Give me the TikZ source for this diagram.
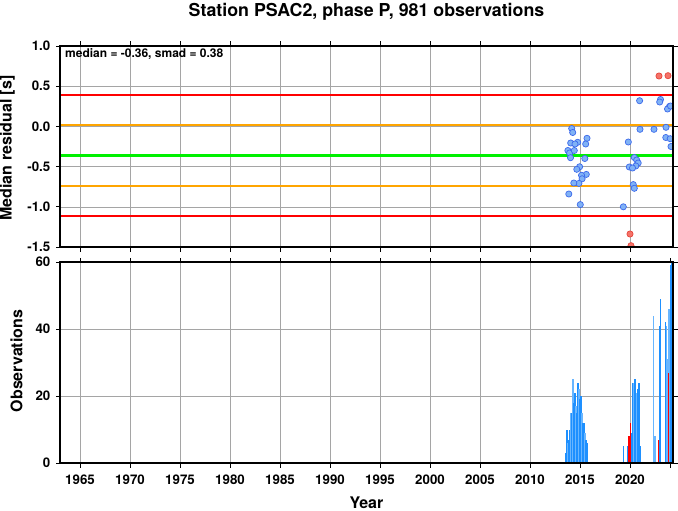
\documentclass[tikz,border=0pt]{standalone}
\usepackage{fontspec}
\setmainfont{TeX Gyre Heros}
\usetikzlibrary{positioning}

\definecolor{ptblue}{RGB}{128,178,245}
\definecolor{ptedge}{RGB}{60,105,235}
\definecolor{ptred}{RGB}{245,115,105}
\definecolor{ptrededge}{RGB}{230,70,60}
\definecolor{barblue}{RGB}{30,144,255}
\definecolor{barlight}{RGB}{105,182,255}
\definecolor{gridgray}{RGB}{165,165,165}
\definecolor{lineorange}{RGB}{255,165,0}
\definecolor{linegreen}{RGB}{0,240,0}

\begin{document}
\begin{tikzpicture}[
    x=1pt, y=-1pt,
    gridline/.style={gridgray, line width=0.6pt},
    frameline/.style={line width=1.4pt},
    ticmark/.style={line width=0.9pt},
    ticklabel/.style={font=\bfseries\fontsize{13.3}{15}\selectfont, inner sep=0pt},
    axislabel/.style={font=\bfseries\fontsize{16}{18}\selectfont, inner sep=0pt},
    bluedot/.style={fill=ptblue, draw=ptedge, line width=0.7pt},
    reddot/.style={fill=ptred, draw=ptrededge, line width=0.7pt}
]
\useasboundingbox (0,0) rectangle (678,511);

% title
\node[font=\bfseries\fontsize{17.8}{20}\selectfont, inner sep=0pt, anchor=base] (title) at (366.5,16.7) {Station PSAC2, phase P, 981 observations};

% top panel: grid
\foreach \gx in {80,130,...,670}
  \draw[gridline] (\gx,46) -- (\gx,247);
\foreach \gv in {0.5,0,-0.5,-1}
  \draw[gridline] (60,{126.4-\gv*80.4}) -- (673,{126.4-\gv*80.4});

% median and smad lines
\foreach \lv/\lc/\lw in {0.393/red/2pt, -1.119/red/2pt, 0.015/lineorange/2pt, -0.741/lineorange/2pt, -0.363/linegreen/3pt}
  \draw[\lc, line width=\lw] (60,{126.4-\lv*80.4}) -- (673,{126.4-\lv*80.4});

% residuals
\begin{scope}
  \clip (60,46) rectangle (673,247);
  \foreach \px/\py in {571.7/128.5, 572.7/132.5, 587/138.3, 570.7/143, 577.7/142.3, 575/144,
      585.7/144, 567.9/150.5, 569.6/153, 574.3/150.5, 570.5/157.7, 584.8/158.5, 579.6/166.8,
      576.8/169.3, 586.3/174.4, 581.5/175.3, 582.1/178.8, 578.9/183.4, 573.8/183, 568.8/194,
      580.3/204.6, 623.3/206.8, 628.3/142, 634.3/157.5, 636.7/160, 638.2/163, 635.8/166,
      629.3/167, 632.5/168, 633.3/184.6, 634.3/188.3, 640/129.3, 654/129.3, 666/127.3,
      665.8/137.5, 670.2/138.7, 671/146.5, 639.6/100.7, 660.5/99.5, 659.7/102, 669.5/106.5,
      667.5/109, 670.5/106}
    \draw[bluedot] (\px,\py) circle (3.1);
  \foreach \px/\py in {659/76, 668/75.7, 630/234, 631/245.7}
    \draw[reddot] (\px,\py) circle (3.1);
\end{scope}

% top panel: frame and ticks
\draw[frameline] (60,46) rectangle (673,247);
\foreach \gx in {80,130,...,670} {
  \draw[ticmark] (\gx,46) -- (\gx,41.5);
  \draw[ticmark] (\gx,247) -- (\gx,251.5);
}
\foreach \gv/\gt in {1/1.0, 0.5/0.5, 0/0.0, -0.5/-0.5, -1/-1.0, -1.5/-1.5} {
  \draw[ticmark] (60,{126.4-\gv*80.4}) -- (55.5,{126.4-\gv*80.4});
  \draw[ticmark] (673,{126.4-\gv*80.4}) -- (677.5,{126.4-\gv*80.4});
  \node[ticklabel, anchor=base east] at (50.5,{131.2-\gv*80.4}) {\gt};
}
\node[font=\bfseries\fontsize{12}{14}\selectfont, inner sep=0pt, anchor=base west] (stats) at (65,57.5) {median = -0.36, smad = 0.38};
\node[axislabel, rotate=90, anchor=base] (reslabel) at (11.7,148) {Median residual [s]};

% bottom panel: grid
\foreach \gx in {80,130,...,670}
  \draw[gridline] (\gx,262) -- (\gx,463);
\foreach \gc in {20,40}
  \draw[gridline] (60,{463-\gc*3.35}) -- (673,{463-\gc*3.35});

% observation counts
\foreach \bx/\bn/\bc in {566/3/barblue, 567/10/barblue, 568/6/barlight, 569/7/barblue, 570/10/barblue,
    571/15/barlight, 572/15/barblue, 573/25/barlight, 574/18/barblue, 575/21/barblue, 576/17/barlight,
    577/15/barblue, 578/24/barblue, 579/22/barlight, 580/19/barblue, 581/20/barblue, 582/15/barlight,
    583/12/barblue, 584/12/barblue, 585/9/barlight, 586/7/barblue, 587/6/barblue,
    623.3/5/barblue, 628/5/barblue, 629/5/barblue, 630/5/barblue, 631/5/barblue, 632/9/barblue,
    633/24/barblue, 634/24/barlight, 635/25/barblue, 636/21/barblue, 637/21/barlight, 638/22/barblue,
    639/24/barblue, 640/5/barblue,
    653.6/44/barlight, 655/8/barlight, 659.6/41/barblue, 660.6/49/barblue, 665.2/42/barblue,
    666.2/41/barlight, 667.4/31/barlight, 669/46/barlight, 670.6/59/barblue, 671.8/60/barblue,
    629/8/red, 630.2/12/red, 658.6/7/red, 668.2/27/red}
  \fill[\bc] (\bx-0.6,463) rectangle (\bx+0.6,{463-\bn*3.35});

% bottom panel: frame and ticks
\draw[frameline] (60,262) rectangle (673,463);
\foreach \gx/\yr in {80/1965,130/1970,180/1975,230/1980,280/1985,330/1990,380/1995,430/2000,480/2005,530/2010,580/2015,630/2020} {
  \draw[ticmark] (\gx,262) -- (\gx,257.5);
  \draw[ticmark] (\gx,463) -- (\gx,467.5);
  \node[ticklabel, anchor=base] at (\gx,484.5) {\yr};
}
\draw[ticmark] (670,262) -- (670,257.5);
\draw[ticmark] (670,463) -- (670,467.5);
\foreach \gc in {0,20,40,60} {
  \draw[ticmark] (60,{463-\gc*3.35}) -- (55.5,{463-\gc*3.35});
  \draw[ticmark] (673,{463-\gc*3.35}) -- (677.5,{463-\gc*3.35});
  \node[ticklabel, anchor=base east] at (50.5,{467.8-\gc*3.35}) {\gc};
}
\node[axislabel, rotate=90, anchor=base] (obslabel) at (22.5,361) {Observations};
\node[axislabel, anchor=base] (yearlabel) at (366.5,508.5) {Year};

\end{tikzpicture}
\end{document}
